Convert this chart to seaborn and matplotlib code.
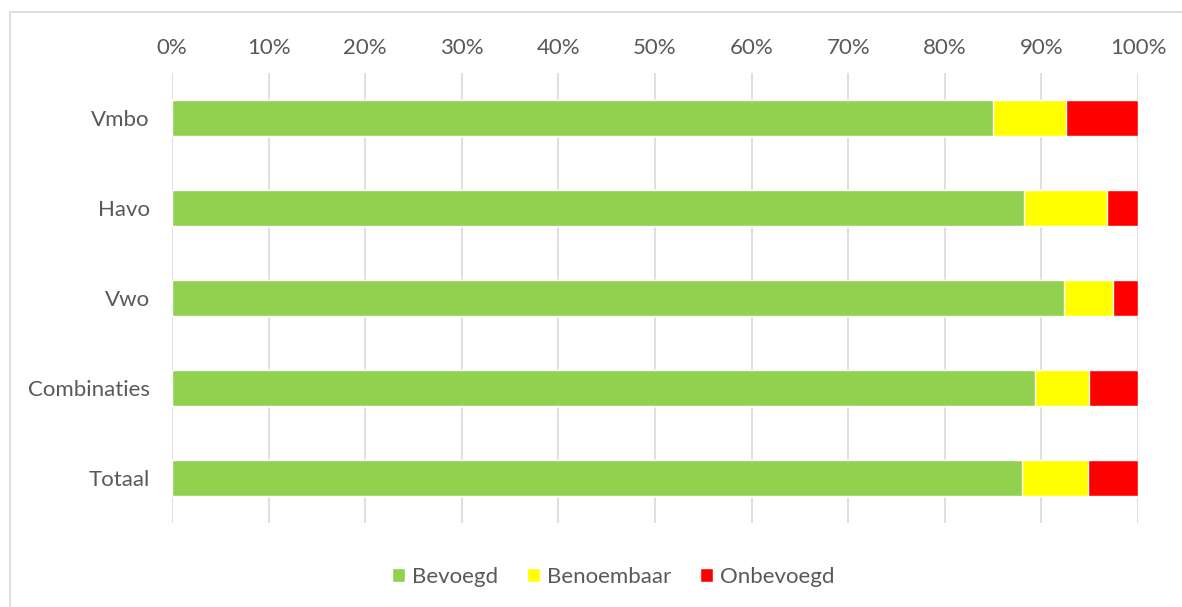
import matplotlib
matplotlib.use("Agg")
import matplotlib.pyplot as plt
import seaborn as sns
import pandas as pd
import numpy as np
from matplotlib.patches import Rectangle, Patch
from matplotlib.ticker import PercentFormatter

# data (percentages per school type)
categories = ["Vmbo", "Havo", "Vwo", "Combinaties", "Totaal"]
bevoegd = [85.0, 88.2, 92.3, 89.3, 88.0]
benoembaar = [7.5, 8.6, 5.1, 5.6, 6.8]
onbevoegd = [7.5, 3.2, 2.6, 5.1, 5.2]

series = ["Bevoegd", "Benoembaar", "Onbevoegd"]
colors = ["#92D050", "#FFFF00", "#FF0000"]

df = pd.DataFrame({"cat": categories, "Bevoegd": bevoegd,
                   "Benoembaar": benoembaar, "Onbevoegd": onbevoegd})
cum = df[series].cumsum(axis=1)

sns.set_style("white")
plt.rcParams["font.family"] = ["Lato", "DejaVu Sans"]

fig = plt.figure(figsize=(11.82, 6.07), dpi=100)
ax = fig.add_axes([172 / 1182, 1 - 523 / 607, 966 / 1182, 450 / 607])

# stacked bars: draw cumulative totals from the back to the front
for name, col in reversed(list(zip(series, colors))):
    sns.barplot(x=cum[name], y=df["cat"], color=col, width=0.39,
                saturation=1, ax=ax, orient="h")

ax.set_xlim(0, 100)
ax.set_xticks(np.arange(0, 101, 10))
ax.xaxis.set_major_formatter(PercentFormatter(decimals=0))
ax.xaxis.tick_top()
ax.grid(axis="x", color="#D9D9D9", linewidth=1.2)
ax.set_axisbelow(True)
for s in ax.spines.values():
    s.set_visible(False)
ax.tick_params(axis="both", length=0, labelsize=16, labelcolor="#595959")
ax.tick_params(axis="y", pad=16)
ax.tick_params(axis="x", pad=11)
ax.set_xlabel("")
ax.set_ylabel("")

# chart frame
fig.patches.append(Rectangle((10 / 1182, -0.1), 1.2, (1 - 12 / 607) + 0.1,
                             transform=fig.transFigure, fill=False,
                             edgecolor="#D9D9D9", linewidth=1.2))

handles = [Patch(facecolor=c, label=n) for n, c in zip(series, colors)]
fig.legend(handles=handles, loc="center", bbox_to_anchor=(613 / 1182, 1 - 577 / 607),
           ncol=3, frameon=False, fontsize=16, handlelength=0.6, handleheight=0.6,
           handletextpad=0.3, columnspacing=1.3, labelcolor="#595959")

fig.savefig("out.png", dpi=100)
